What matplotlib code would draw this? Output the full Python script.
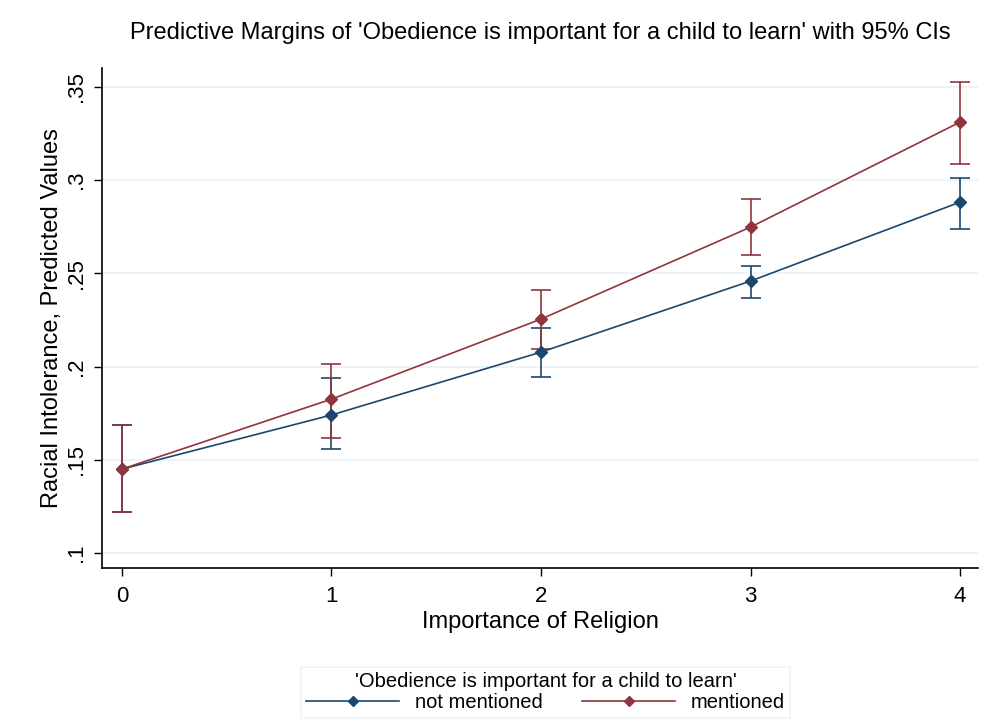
import matplotlib
matplotlib.use("Agg")
import matplotlib.pyplot as plt
from matplotlib.lines import Line2D

plt.rcParams['font.family'] = ['Liberation Sans', 'DejaVu Sans']

religion = [0, 1, 2, 3, 4]
x_ticks = [0, 1, 2, 3, 4]
y_ticks = [0.10, 0.15, 0.20, 0.25, 0.30, 0.35]
y_tick_labels = ['.1', '.15', '.2', '.25', '.3', '.35']

not_mentioned = [0.145, 0.174, 0.2077, 0.2458, 0.2881]
not_mentioned_lo = [0.122, 0.1557, 0.1943, 0.2367, 0.2736]
not_mentioned_hi = [0.1686, 0.1938, 0.2206, 0.2538, 0.3010]

mentioned = [0.145, 0.1825, 0.2254, 0.2747, 0.3310]
mentioned_lo = [0.122, 0.1616, 0.2093, 0.2597, 0.3085]
mentioned_hi = [0.1686, 0.2013, 0.2409, 0.2897, 0.3524]

series_names = ['not mentioned', 'mentioned']
blue = '#1a476f'
red = '#90353b'

fig = plt.figure(figsize=(9.95, 7.27), dpi=100)
fig.patch.set_facecolor('white')
ax = fig.add_axes([0.1025, 0.2187, 0.8805, 0.6878])

def draw(vals, lo, hi, color):
    yerr = [[v - l for v, l in zip(vals, lo)], [h - v for v, h in zip(vals, hi)]]
    ax.errorbar(religion, vals, yerr=yerr, fmt='none', ecolor=color, elinewidth=1.4,
                capsize=7, capthick=1.4, alpha=0.85, zorder=3)
    ax.plot(religion, vals, color=color, lw=1.2, marker='D', markersize=6.5, zorder=4)

draw(not_mentioned, not_mentioned_lo, not_mentioned_hi, blue)
draw(mentioned, mentioned_lo, mentioned_hi, red)

ax.set_xlim(-0.095, 4.086)
ax.set_ylim(0.092, 0.36)
ax.set_xticks(x_ticks)
ax.set_yticks(y_ticks)
ax.set_yticklabels(y_tick_labels, rotation=90, va='center')
ax.tick_params(axis='both', labelsize=16, length=6, width=1, direction='out', color='black')
ax.tick_params(axis='x', pad=7)
ax.tick_params(axis='y', pad=5)
ax.yaxis.grid(True, color='#eaf2f3', lw=1.2)
ax.set_axisbelow(True)
for s in ['top', 'right']:
    ax.spines[s].set_visible(False)
for s in ['left', 'bottom']:
    ax.spines[s].set_linewidth(1.2)

ax.set_xlabel('Importance of Religion', fontsize=17, labelpad=3)
ax.set_ylabel('Racial Intolerance, Predicted Values', fontsize=17, labelpad=2)
fig.text(0.543, 0.955, "Predictive Margins of 'Obedience is important for a child to learn' with 95% CIs",
         ha='center', va='center', fontsize=17)

handles = [Line2D([], [], color=blue, lw=1.2, marker='D', markersize=5),
           Line2D([], [], color=red, lw=1.2, marker='D', markersize=5)]
leg = fig.legend(handles, series_names, loc='center', bbox_to_anchor=(0.5485, 0.0475), ncol=2,
                 title="'Obedience is important for a child to learn'", title_fontsize=14.5,
                 fontsize=14.5, frameon=True, fancybox=False, edgecolor='#eaf2f3',
                 handlelength=4.6, columnspacing=1.95, borderpad=0.25, labelspacing=0.1,
                 handletextpad=0.8, borderaxespad=0)
leg.get_frame().set_linewidth(1.2)

fig.savefig('out.png', dpi=100, facecolor='white')
